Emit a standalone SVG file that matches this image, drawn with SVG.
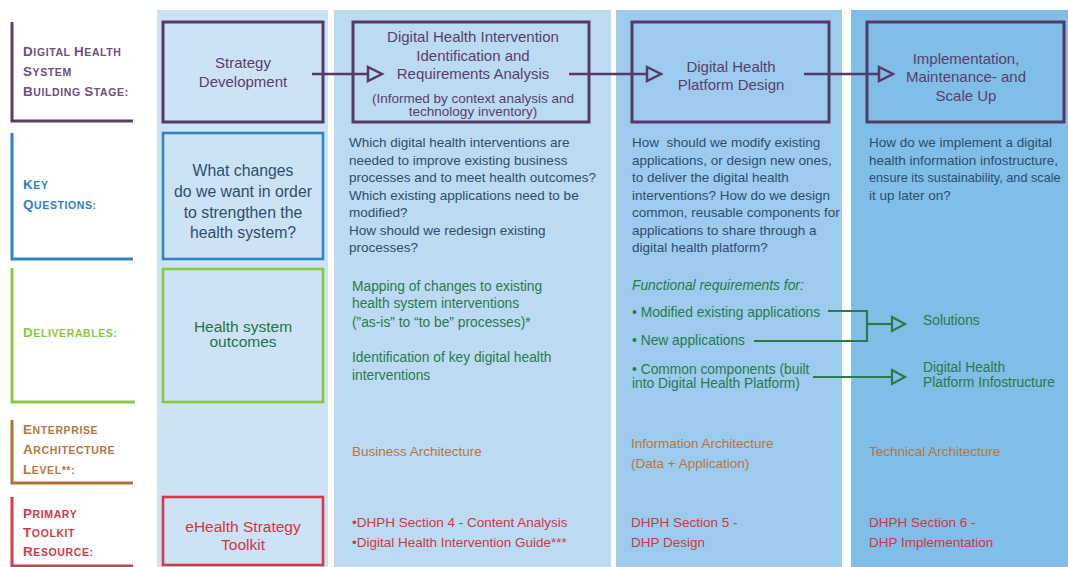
<svg xmlns="http://www.w3.org/2000/svg" width="1068" height="567" viewBox="0 0 1068 567">
<style>
text{font-family:"Liberation Sans",Arial,sans-serif;}
.lab{font-size:10.5px;font-weight:bold;letter-spacing:0.6px;}
.cap{font-size:13.5px;}
.title{font-size:15px;fill:#5a3d6d;text-anchor:middle;}
.q{font-size:13.5px;fill:#2d4d6d;}
.del{font-size:13.8px;fill:#2a7a4a;}
.arch{font-size:13.5px;fill:#b8763a;}
.res{font-size:13.5px;fill:#cf3743;}
.pbox{fill:none;stroke:#553a68;stroke-width:3;}
.parr{fill:none;stroke:#553a68;stroke-width:2.5;}
.garr{fill:none;stroke:#2a7a4a;stroke-width:2.2;}
.br{fill:none;stroke-width:3;}
</style>
<rect width="1068" height="567" fill="#ffffff"/>
<g id="columns">
<rect x="157" y="10" width="171" height="557" fill="#cde3f5"/>
<rect x="334" y="10" width="277" height="557" fill="#bcdbf2"/>
<rect x="616" y="10" width="226" height="557" fill="#9dcbed"/>
<rect x="851" y="10" width="217" height="557" fill="#80bee8"/>
</g>
<g id="row-labels">
<path class="br" stroke="#5a3d6d" d="M12,22 V121 H133"/>
<text class="lab" fill="#6b4f7c" x="23" y="56"><tspan class="cap">D</tspan>IGITAL <tspan class="cap">H</tspan>EALTH</text>
<text class="lab" fill="#6b4f7c" x="23" y="76"><tspan class="cap">S</tspan>YSTEM</text>
<text class="lab" fill="#6b4f7c" x="23" y="96"><tspan class="cap">B</tspan>UILDING <tspan class="cap">S</tspan>TAGE:</text>
<path class="br" stroke="#2e84c8" d="M12,133 V259 H133"/>
<text class="lab" fill="#2f80c2" x="23" y="189"><tspan class="cap">K</tspan>EY</text>
<text class="lab" fill="#2f80c2" x="23" y="209"><tspan class="cap">Q</tspan>UESTIONS:</text>
<path class="br" stroke="#8cc63f" d="M12,268 V402 H135"/>
<text class="lab" fill="#8cc63f" x="23" y="337"><tspan class="cap">D</tspan>ELIVERABLES:</text>
<path class="br" stroke="#b06f35" d="M12,420 V483 H133"/>
<text class="lab" fill="#b8763a" x="23" y="434"><tspan class="cap">E</tspan>NTERPRISE</text>
<text class="lab" fill="#b8763a" x="23" y="454"><tspan class="cap">A</tspan>RCHITECTURE</text>
<text class="lab" fill="#b8763a" x="23" y="474"><tspan class="cap">L</tspan>EVEL**:</text>
<path class="br" stroke="#d63a47" d="M12,497 V566 H133"/>
<text class="lab" fill="#d13a46" x="23" y="518"><tspan class="cap">P</tspan>RIMARY</text>
<text class="lab" fill="#d13a46" x="23" y="537"><tspan class="cap">T</tspan>OOLKIT</text>
<text class="lab" fill="#d13a46" x="23" y="556"><tspan class="cap">R</tspan>ESOURCE:</text>
</g>
<g id="strategy-development">
<rect class="pbox" x="163" y="22" width="160" height="100"/>
<text class="title" x="243" y="68">Strategy</text>
<text class="title" x="243" y="87">Development</text>
</g>
<g id="what-changes">
<rect x="163" y="133" width="160" height="126" fill="none" stroke="#2e84c8" stroke-width="2.6"/>
<text x="243" y="175.5" font-size="15.8" fill="#2d4d6d" text-anchor="middle">What changes</text>
<text x="243" y="196.5" font-size="15.8" fill="#2d4d6d" text-anchor="middle">do we want in order</text>
<text x="243" y="217.5" font-size="15.8" fill="#2d4d6d" text-anchor="middle">to strengthen the</text>
<text x="243" y="237.5" font-size="15.8" fill="#2d4d6d" text-anchor="middle">health system?</text>
</g>
<g id="health-system-outcomes">
<rect x="163" y="269" width="160" height="133" fill="none" stroke="#8cc63f" stroke-width="2.6"/>
<text x="243" y="332" font-size="15.5" fill="#237447" text-anchor="middle">Health system</text>
<text x="243" y="347" font-size="15.5" fill="#237447" text-anchor="middle">outcomes</text>
</g>
<g id="ehealth-strategy-toolkit">
<rect x="163" y="497" width="160" height="68" fill="none" stroke="#d63a47" stroke-width="2.6"/>
<text x="243" y="532" font-size="15.5" fill="#cf3743" text-anchor="middle">eHealth Strategy</text>
<text x="243" y="550" font-size="15.5" fill="#cf3743" text-anchor="middle">Toolkit</text>
</g>
<g id="dhi-identification">
<rect class="pbox" x="353" y="22" width="236" height="100"/>
<text class="title" x="473" y="42">Digital Health Intervention</text>
<text class="title" x="473" y="61">Identification and</text>
<text class="title" x="473" y="79">Requirements Analysis</text>
<text x="473" y="102.5" font-size="13.5" fill="#5a3d6d" text-anchor="middle">(Informed by context analysis and</text>
<text x="473" y="115.5" font-size="13.5" fill="#5a3d6d" text-anchor="middle">technology inventory)</text>
</g>
<g id="dhp-design">
<rect class="pbox" x="632" y="22" width="197" height="100"/>
<text class="title" x="731" y="72">Digital Health</text>
<text class="title" x="731" y="90">Platform Design</text>
</g>
<g id="implementation">
<rect class="pbox" x="867" y="22" width="197" height="100"/>
<text class="title" x="966" y="64">Implementation,</text>
<text class="title" x="966" y="82">Maintenance- and</text>
<text class="title" x="966" y="101">Scale Up</text>
</g>
<g id="questions">
<text class="q" x="349" y="147">Which digital health interventions are</text>
<text class="q" x="349" y="164.5">needed to improve existing business</text>
<text class="q" x="349" y="182">processes and to meet health outcomes?</text>
<text class="q" x="349" y="199.5">Which existing applications need to be</text>
<text class="q" x="349" y="217">modified?</text>
<text class="q" x="349" y="234.5">How should we redesign existing</text>
<text class="q" x="349" y="252">processes?</text>
<text class="q" x="632" y="147" xml:space="preserve">How  should we modify existing</text>
<text class="q" x="632" y="164.5">applications, or design new ones,</text>
<text class="q" x="632" y="182">to deliver the digital health</text>
<text class="q" x="632" y="199.5">interventions? How do we design</text>
<text class="q" x="632" y="217">common, reusable components for</text>
<text class="q" x="632" y="234.5">applications to share through a</text>
<text class="q" x="632" y="252">digital health platform?</text>
<text class="q" x="869" y="147">How do we implement a digital</text>
<text class="q" x="869" y="164.5">health information infostructure,</text>
<text class="q" x="869" y="182" style="font-size:12.7px">ensure its sustainability, and scale</text>
<text class="q" x="869" y="199.5">it up later on?</text>
</g>
<g id="deliverables">
<text class="del" x="352" y="290.5">Mapping of changes to existing</text>
<text class="del" x="352" y="308">health system interventions</text>
<text class="del" x="352" y="326.5">(”as-is” to “to be” processes)*</text>
<text class="del" x="352" y="361.5">Identification of key digital health</text>
<text class="del" x="352" y="379.5">interventions</text>
<text class="del" x="632" y="290" font-style="italic">Functional requirements for:</text>
<text class="del" x="632" y="316.5">• Modified existing applications</text>
<text class="del" x="632" y="344.5">• New applications</text>
<text class="del" x="632" y="374">• Common components (built</text>
<text class="del" x="632" y="388">into Digital Health Platform)</text>
</g>
<g id="solutions">
<text class="del" x="923" y="324.5">Solutions</text>
</g>
<g id="dhp-infostructure">
<text class="del" x="923" y="371.5">Digital Health</text>
<text class="del" x="923" y="386.5">Platform Infostructure</text>
</g>
<g id="architecture">
<text class="arch" x="352" y="456">Business Architecture</text>
<text class="arch" x="631" y="447.5">Information Architecture</text>
<text class="arch" x="631" y="467.5">(Data + Application)</text>
<text class="arch" x="869" y="456">Technical Architecture</text>
</g>
<g id="resources">
<text class="res" x="352" y="526.5">•DHPH Section 4 - Content Analysis</text>
<text class="res" x="352" y="546.5">•Digital Health Intervention Guide***</text>
<text class="res" x="631" y="526.5">DHPH Section 5 -</text>
<text class="res" x="631" y="547">DHP Design</text>
<text class="res" x="869" y="526.5">DHPH Section 6 -</text>
<text class="res" x="869" y="547">DHP Implementation</text>
</g>
<g id="connectors">
<path class="parr" d="M312,74 H368"/>
<polygon class="parr" points="368,67 382,74 368,81"/>
<path class="parr" d="M569,74 H647"/>
<polygon class="parr" points="647,67 661,74 647,81"/>
<path class="parr" d="M804,74 H879"/>
<polygon class="parr" points="879,67 893,74 879,81"/>
<path class="garr" d="M828,311 H867 V341 H754"/>
<path class="garr" d="M867,324 H892"/>
<polygon class="garr" points="892,317 905,324 892,331"/>
<path class="garr" d="M813,377 H892"/>
<polygon class="garr" points="892,370 905,377 892,384"/>
</g>
</svg>
